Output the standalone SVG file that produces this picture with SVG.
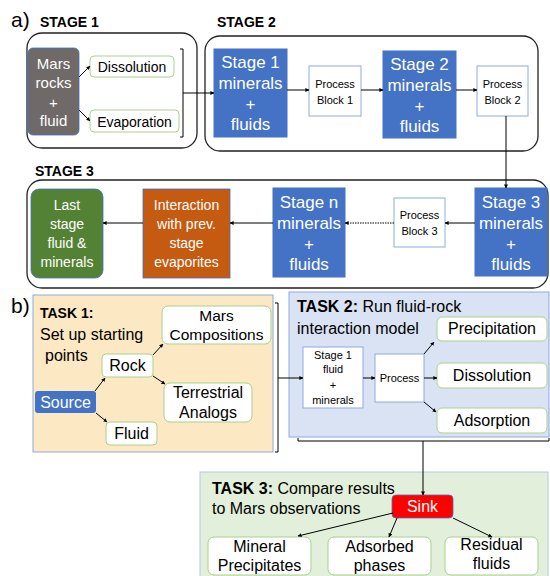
<svg xmlns="http://www.w3.org/2000/svg" width="550" height="576" viewBox="0 0 550 576">
<defs>
<marker id="ah" viewBox="0 0 10 10" refX="9" refY="5" markerWidth="4" markerHeight="4" orient="auto"><path d="M0,0 L10,5 L0,10 z" fill="#000"/></marker>
<style>
text{font-family:"Liberation Sans",Arial,sans-serif;}
.stage{fill:none;stroke:#222;stroke-width:1.3;}
.blue{fill:#4472C4;stroke:#4472C4;}
.wt{fill:#fff;text-anchor:middle;}
.bt{fill:#000;text-anchor:middle;}
.gbox{fill:#fff;stroke:#A9D18E;stroke-width:1;}
.pbox{fill:#fff;stroke:#8FAADC;stroke-width:1;}
.hd{font-weight:bold;font-size:14px;}
.con{fill:none;stroke:#000;stroke-width:1;marker-end:url(#ah);}
.ln{fill:none;stroke:#000;stroke-width:1;}
</style>
</defs>
<rect width="550" height="576" fill="#fff"/>

<!-- Labels -->
<text x="11" y="27" font-size="21">a)</text>
<text x="40" y="27" class="hd">STAGE 1</text>
<text x="217" y="27" class="hd">STAGE 2</text>
<text x="35" y="176" class="hd">STAGE 3</text>

<!-- Stage containers -->
<rect class="stage" x="27" y="33" width="170" height="115" rx="15"/>
<rect class="stage" x="205" y="36" width="333" height="115" rx="15"/>
<rect class="stage" x="27" y="180" width="521" height="108" rx="15"/>

<g id="mars-rocks">
<rect x="28" y="48" width="51" height="87" rx="5" fill="#6F6A67" stroke="#4472C4" stroke-width="0.8"/>
<text class="wt" font-size="15" x="53.5" y="69">Mars</text>
<text class="wt" font-size="15" x="53.5" y="88">rocks</text>
<text class="wt" font-size="15" x="53.5" y="108">+</text>
<text class="wt" font-size="15" x="53.5" y="126">fluid</text>
</g>
<g id="dissolution1">
<rect class="gbox" x="90" y="56" width="84" height="21" rx="4"/>
<text class="bt" font-size="14" x="132" y="72">Dissolution</text>
</g>
<g id="evaporation">
<rect class="gbox" x="90" y="110" width="89" height="22" rx="4"/>
<text class="bt" font-size="14" x="134.5" y="127">Evaporation</text>
</g>

<g id="stage1-minerals">
<rect class="blue" x="214" y="49" width="73" height="88"/>
<text class="wt" font-size="17" x="250.5" y="68">Stage 1</text>
<text class="wt" font-size="17" x="250.5" y="89">minerals</text>
<text class="wt" font-size="17" x="250.5" y="110">+</text>
<text class="wt" font-size="17" x="250.5" y="130">fluids</text>
</g>
<g id="process-block-1">
<rect class="pbox" x="309" y="66" width="52" height="50"/>
<text class="bt" font-size="11" x="335" y="88">Process</text>
<text class="bt" font-size="11" x="335" y="104">Block 1</text>
</g>
<g id="stage2-minerals">
<rect class="blue" x="383" y="51" width="73" height="87"/>
<text class="wt" font-size="17" x="419.5" y="70">Stage 2</text>
<text class="wt" font-size="17" x="419.5" y="91">minerals</text>
<text class="wt" font-size="17" x="419.5" y="112">+</text>
<text class="wt" font-size="17" x="419.5" y="132">fluids</text>
</g>
<g id="process-block-2">
<rect class="pbox" x="477" y="66" width="51" height="50"/>
<text class="bt" font-size="11" x="502.5" y="88">Process</text>
<text class="bt" font-size="11" x="502.5" y="104">Block 2</text>
</g>

<g id="stage3-minerals">
<rect class="blue" x="475" y="188" width="72" height="88"/>
<text class="wt" font-size="17" x="511" y="208">Stage 3</text>
<text class="wt" font-size="17" x="511" y="229">minerals</text>
<text class="wt" font-size="17" x="511" y="250">+</text>
<text class="wt" font-size="17" x="511" y="270">fluids</text>
</g>
<g id="process-block-3">
<rect class="pbox" x="394" y="198" width="51" height="49"/>
<text class="bt" font-size="11" x="419.5" y="219">Process</text>
<text class="bt" font-size="11" x="419.5" y="235">Block 3</text>
</g>
<g id="stagen-minerals">
<rect class="blue" x="273" y="188" width="72" height="89"/>
<text class="wt" font-size="17" x="309" y="208">Stage n</text>
<text class="wt" font-size="17" x="309" y="229">minerals</text>
<text class="wt" font-size="17" x="309" y="250">+</text>
<text class="wt" font-size="17" x="309" y="270">fluids</text>
</g>
<g id="interaction">
<rect x="143" y="189" width="87" height="89" fill="#C55A11" stroke="#4472C4" stroke-width="0.8"/>
<text class="wt" font-size="14" x="186.5" y="210">Interaction</text>
<text class="wt" font-size="14" x="186.5" y="229">with prev.</text>
<text class="wt" font-size="14" x="186.5" y="248">stage</text>
<text class="wt" font-size="14" x="186.5" y="267">evaporites</text>
</g>
<g id="last-stage">
<rect x="31" y="189" width="72" height="89" rx="8" fill="#548235" stroke="#4472C4" stroke-width="0.8"/>
<text class="wt" font-size="14" x="67" y="210">Last</text>
<text class="wt" font-size="14" x="67" y="229">stage</text>
<text class="wt" font-size="14" x="67" y="248">fluid &amp;</text>
<text class="wt" font-size="14" x="67" y="267">minerals</text>
</g>

<!-- Section b -->
<text x="11" y="313" font-size="21">b)</text>

<g id="task1">
<rect x="33" y="295" width="240" height="157" fill="#FCE8C2" stroke="#8FAADC" stroke-width="1"/>
<text x="40" y="318" class="hd">TASK 1:</text>
<text x="40" y="340" font-size="16">Set up starting</text>
<text x="45" y="361" font-size="16">points</text>
</g>
<g id="mars-compositions">
<rect class="gbox" x="162" y="306" width="109" height="38" rx="6"/>
<text class="bt" font-size="15.5" x="216.5" y="321">Mars</text>
<text class="bt" font-size="15.5" x="216.5" y="340">Compositions</text>
</g>
<g id="rock">
<rect class="gbox" x="102" y="354" width="51" height="23" rx="4"/>
<text class="bt" font-size="16" x="127.5" y="371">Rock</text>
</g>
<g id="terrestrial-analogs">
<rect class="gbox" x="164" y="383" width="88" height="39" rx="6"/>
<text class="bt" font-size="16" x="208" y="398">Terrestrial</text>
<text class="bt" font-size="16" x="208" y="418">Analogs</text>
</g>
<g id="source">
<rect x="35" y="391" width="61" height="22" rx="3" fill="#4472C4"/>
<text class="wt" font-size="16" x="65.5" y="408">Source</text>
</g>
<g id="fluid">
<rect class="gbox" x="106" y="422" width="51" height="23" rx="4"/>
<text class="bt" font-size="16" x="131.5" y="439">Fluid</text>
</g>

<g id="task2">
<rect x="289" y="292" width="260" height="145" fill="#DAE3F3" stroke="#8FAADC" stroke-width="1"/>
<text x="297" y="312" font-size="16"><tspan font-weight="bold">TASK 2:</tspan> Run fluid-rock</text>
<text x="297" y="334" font-size="16">interaction model</text>
</g>
<g id="stage1-fluid">
<rect class="pbox" x="303" y="347" width="60" height="61"/>
<text class="bt" font-size="11" x="333" y="359">Stage 1</text>
<text class="bt" font-size="11" x="333" y="373">fluid</text>
<text class="bt" font-size="11" x="333" y="389">+</text>
<text class="bt" font-size="11" x="333" y="404">minerals</text>
</g>
<g id="process">
<rect class="pbox" x="375" y="354" width="49" height="48"/>
<text class="bt" font-size="11" x="399.5" y="382">Process</text>
</g>
<g id="precipitation">
<rect class="gbox" x="437" y="317" width="110" height="24" rx="5"/>
<text class="bt" font-size="16" x="492" y="334">Precipitation</text>
</g>
<g id="dissolution2">
<rect class="gbox" x="437" y="363" width="110" height="25" rx="5"/>
<text class="bt" font-size="16" x="492" y="381">Dissolution</text>
</g>
<g id="adsorption">
<rect class="gbox" x="437" y="408" width="110" height="25" rx="5"/>
<text class="bt" font-size="16" x="492" y="426">Adsorption</text>
</g>

<g id="task3">
<rect x="200" y="472" width="348" height="110" fill="#E2EFDA" stroke="#B4C7E7" stroke-width="1"/>
<text x="212" y="494" font-size="16"><tspan font-weight="bold">TASK 3:</tspan> Compare results</text>
<text x="212" y="514" font-size="16">to Mars observations</text>
</g>
<g id="sink">
<rect x="392" y="495" width="61" height="23" rx="4" fill="#FF0000" stroke="#4472C4" stroke-width="0.8"/>
<text class="wt" font-size="16" x="422.5" y="512">Sink</text>
</g>
<g id="mineral-precipitates">
<rect class="gbox" x="208" y="537" width="103" height="38" rx="6"/>
<text class="bt" font-size="16" x="259.5" y="552">Mineral</text>
<text class="bt" font-size="16" x="259.5" y="571">Precipitates</text>
</g>
<g id="adsorbed-phases">
<rect class="gbox" x="328" y="537" width="103" height="38" rx="6"/>
<text class="bt" font-size="16" x="379.5" y="552">Adsorbed</text>
<text class="bt" font-size="16" x="379.5" y="571">phases</text>
</g>
<g id="residual-fluids">
<rect class="gbox" x="445" y="537" width="93" height="38" rx="6"/>
<text class="bt" font-size="16" x="491.5" y="550">Residual</text>
<text class="bt" font-size="16" x="491.5" y="569">fluids</text>
</g>

<g id="connectors">
<path class="con" d="M79,77 L90,66"/>
<path class="con" d="M79,110 L90,121"/>
<path class="ln" d="M180,49 L183,49 L183,137 L180,137"/>
<path class="con" d="M183,93 L214,93"/>
<path class="con" d="M287,90 L309,90"/>
<path class="con" d="M361,90 L383,90"/>
<path class="con" d="M456,90 L477,90"/>
<path class="con" d="M506,116 L506,188"/>
<path class="con" d="M475,223 L445,223"/>
<path class="con" d="M394,223 L345,223" stroke-dasharray="1.5,1"/>
<path class="con" d="M273,223 L230,223"/>
<path class="con" d="M143,223 L103,223"/>
<path class="con" d="M95,391 L105,378"/>
<path class="con" d="M96,413 L107,422"/>
<path class="con" d="M153,355 L163,344"/>
<path class="con" d="M153,376 L165,384"/>
<path class="ln" d="M275,303 L278,303 L278,452 L275,452"/>
<path class="con" d="M278,378 L303,378"/>
<path class="con" d="M363,378 L375,378"/>
<path class="con" d="M424,354 L434,342"/>
<path class="con" d="M424,378 L437,378"/>
<path class="con" d="M424,402 L436,412"/>
<path class="ln" d="M298,438 L298,441 L549,441 L549,438"/>
<path class="con" d="M423,441 L423,495"/>
<path class="con" d="M393,513 L298,536"/>
<path class="con" d="M397,518 L389,537"/>
<path class="con" d="M453,518 L492,537"/>
</g>
</svg>
